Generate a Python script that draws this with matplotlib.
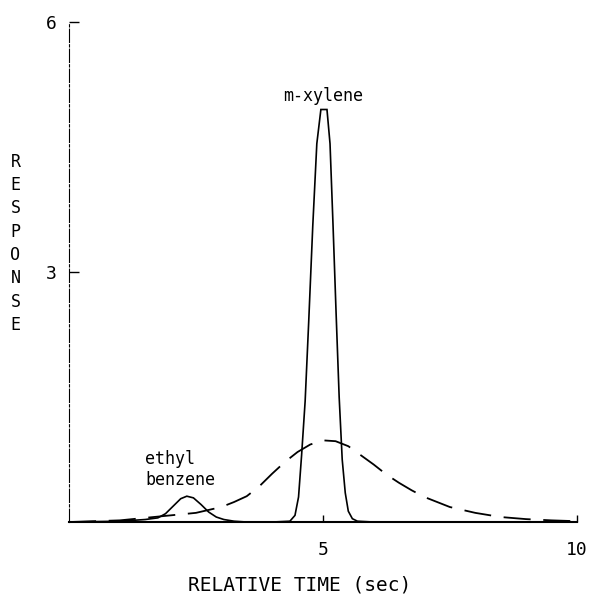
import matplotlib
matplotlib.use("Agg")
import matplotlib.pyplot as plt

# ---- data ----
solid_x = [0.0, 0.5, 1.0, 1.5, 1.75, 1.9, 2.05, 2.2, 2.32, 2.45, 2.6, 2.75, 2.9, 3.05, 3.25, 3.5,
           4.0, 4.35, 4.45, 4.52, 4.58, 4.65, 4.72, 4.8, 4.88, 4.96, 5.08, 5.14, 5.2, 5.26, 5.32,
           5.38, 5.44, 5.5, 5.58, 5.68, 6.0, 7.0, 8.0, 9.0, 10.0]
solid_y = [0.0, 0.005, 0.01, 0.03, 0.05, 0.10, 0.19, 0.28, 0.31, 0.29, 0.21, 0.12, 0.06, 0.03, 0.01, 0.0,
           0.0, 0.01, 0.08, 0.3, 0.8, 1.45, 2.4, 3.55, 4.54, 4.95, 4.95, 4.54, 3.55, 2.5, 1.5,
           0.75, 0.35, 0.13, 0.04, 0.01, 0.0, 0.0, 0.0, 0.0, 0.0]

dash_x = [0.0, 0.5, 1.0, 1.5, 2.0, 2.5, 3.0, 3.25, 3.5, 3.75, 4.0, 4.25, 4.5, 4.75, 5.0, 5.25,
          5.5, 5.75, 6.0, 6.25, 6.5, 6.75, 7.0, 7.5, 8.0, 8.5, 9.0, 9.5, 10.0]
dash_y = [0.0, 0.01, 0.02, 0.05, 0.08, 0.11, 0.18, 0.24, 0.31, 0.43, 0.58, 0.72, 0.84, 0.93, 0.98, 0.97,
          0.91, 0.80, 0.69, 0.57, 0.47, 0.38, 0.30, 0.18, 0.11, 0.06, 0.035, 0.02, 0.01]

x_ticks = [5, 10]
x_tick_labels = ["5", "10"]
y_ticks = [3, 6]
y_tick_labels = ["3", "6"]

FONT = "DejaVu Sans Mono"

fig = plt.figure(figsize=(5.96, 6.01), dpi=100)
ax = fig.add_axes([0.1158, 0.1314, 0.852, 0.832])

ax.plot(solid_x, solid_y, color="black", lw=1.2, solid_joinstyle="miter")
ax.plot(dash_x, dash_y, color="black", lw=1.3, dashes=(15, 7))

ax.set_xlim(0, 10)
ax.set_ylim(0, 6)
ax.spines["top"].set_visible(False)
ax.spines["right"].set_visible(False)
ax.spines["left"].set_linewidth(0.8)
ax.spines["left"].set_linestyle((0, (12, 2, 2, 2)))
ax.spines["bottom"].set_linewidth(1.5)

ax.set_xticks(x_ticks)
ax.set_xticklabels(x_tick_labels, fontfamily=FONT, fontsize=13)
ax.set_yticks(y_ticks)
ax.set_yticklabels(y_tick_labels, fontfamily=FONT, fontsize=13)
ax.tick_params(axis="x", direction="in", length=5, width=1, pad=14)
ax.tick_params(axis="y", direction="in", length=7, width=1, pad=9)

ax.text(5.0, 5.11, "m-xylene", ha="center", va="center", fontfamily=FONT, fontsize=12)
ax.text(1.5, 0.63, "ethyl\nbenzene", ha="left", va="center", fontfamily=FONT, fontsize=12,
        linespacing=1.15)

fig.text(0.503, 0.027, "RELATIVE TIME (sec)", ha="center", va="center", fontfamily=FONT, fontsize=14)
fig.text(0.026, 0.595, "R\nE\nS\nP\nO\nN\nS\nE", ha="center", va="center", fontfamily=FONT,
         fontsize=12, linespacing=1.38)

fig.savefig("out.png", dpi=100)
